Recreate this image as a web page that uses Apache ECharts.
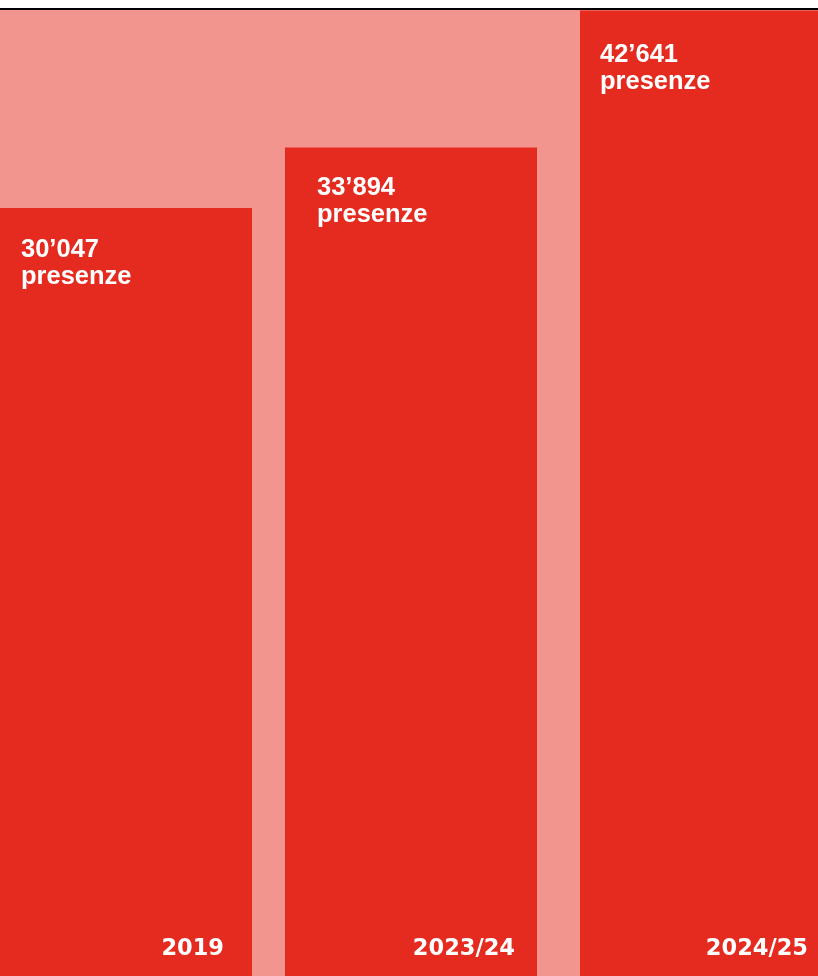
<!DOCTYPE html>
<html>
<head>
<meta charset="utf-8">
<script src="https://cdn.jsdelivr.net/npm/echarts@6/dist/echarts.min.js"></script>
<style>
  html, body { margin: 0; padding: 0; background: #ffffff; }
  #chart { width: 818px; height: 976px; }
</style>
</head>
<body>
<div id="chart"></div>
<script>
// Season attendance ("presenze")
const seasons = ['2019', '2023/24', '2024/25'];
const presenze = [30047, 33894, 42641];
const unitLabel = 'presenze';

// Value-axis range (the axis itself is hidden); bars rise from axisMin
const axisMin = -18920;
const axisMax = 42668;

const RED = '#E52A1F';
const PINK = '#F2958F';

// Bar widths and label placement (pixels)
const barWidths = [262, 252, 242];
const valueLabelPos = [[31, 29], [32, 27], [20, 31]];   // from bar top-left
const yearLabelPos = [[-28, -15], [-22, -15], [-14, -15]]; // from bar bottom-right

// Swiss-style thousands separator: 30’047
function fmt(v) {
  return String(v).replace(/\B(?=(\d{3})+(?!\d))/g, '\u2019');
}

const chart = echarts.init(document.getElementById('chart'), null, { renderer: 'canvas' });

function renderBar(params, api) {
  const i = params.dataIndex;
  const v = api.value(1);
  const w = barWidths[i];
  const top = api.coord([api.value(0), v]);
  const base = api.coord([api.value(0), axisMin]);
  const left = top[0] - w / 2;
  const right = left + w;
  return {
    type: 'group',
    children: [
      {
        type: 'rect',
        shape: { x: left, y: top[1], width: w, height: base[1] - top[1] },
        style: { fill: RED }
      },
      {
        type: 'text',
        x: left + valueLabelPos[i][0],
        y: top[1] + valueLabelPos[i][1],
        style: {
          text: fmt(v) + '\n' + unitLabel,
          fill: '#ffffff',
          fontFamily: 'Liberation Sans, Arial, sans-serif',
          fontWeight: 'bold',
          fontSize: 25.5,
          lineHeight: 27,
          align: 'left',
          verticalAlign: 'top'
        }
      },
      {
        type: 'text',
        x: right + yearLabelPos[i][0],
        y: base[1] + yearLabelPos[i][1],
        style: {
          text: seasons[i],
          fill: '#ffffff',
          fontFamily: 'DejaVu Sans, sans-serif',
          fontWeight: 'bold',
          fontSize: 22.5,
          lineHeight: 24,
          align: 'right',
          verticalAlign: 'bottom'
        }
      }
    ]
  };
}

chart.setOption({
  animation: false,
  backgroundColor: '#ffffff',
  grid: {
    left: -24, right: -28, top: 10, bottom: 0,
    outerBoundsMode: 'none',
    containLabel: false,
    show: true, backgroundColor: PINK, borderWidth: 0
  },
  xAxis: {
    type: 'category',
    data: seasons,
    show: false
  },
  yAxis: {
    type: 'value',
    min: axisMin,
    max: axisMax,
    show: false
  },
  graphic: [{
    type: 'rect',
    shape: { x: 0, y: 8, width: 818, height: 2 },
    style: { fill: '#000000' },
    z: 100
  }],
  series: [{
    type: 'custom',
    renderItem: renderBar,
    clip: false,
    encode: { x: 0, y: 1 },
    data: seasons.map((s, i) => [s, presenze[i]])
  }]
});
</script>
</body>
</html>
